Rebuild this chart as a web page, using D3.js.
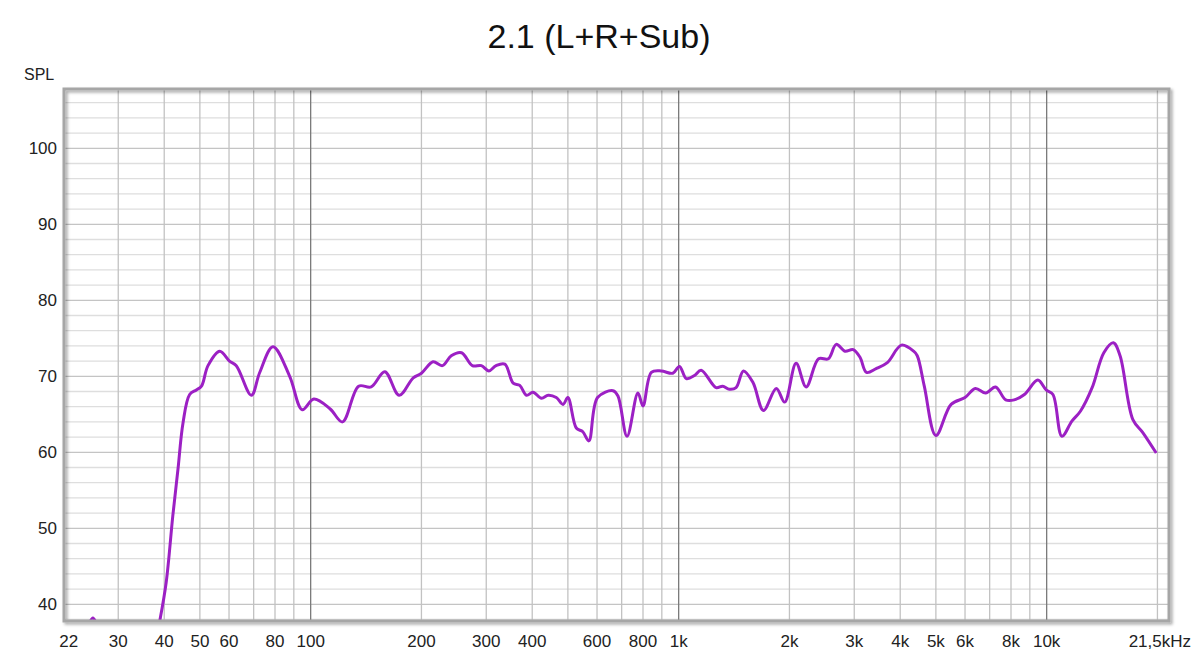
<!DOCTYPE html>
<html>
<head>
<meta charset="utf-8">
<script src="https://cdn.jsdelivr.net/npm/d3@7"></script>
<style>
  body { margin: 0; background: #fff; }
  text { font-family: "Liberation Sans", Arial, sans-serif; }
</style>
</head>
<body>
<div id="chart"></div>
<script>

// frequency response
var freqs = [24.8, 25.6, 26.4, 27, 34, 37.5, 38.9, 40.5, 42.2, 43.6, 45.0, 46.9, 48.9, 50.5, 52.6, 56.6,
  60.2, 62.8, 69.0, 72.7, 79.0, 87.7, 94.9, 102, 113, 122, 135, 146, 159, 174, 190, 200, 215, 228,
  241, 257, 275, 291, 305, 319, 337, 355, 370, 386, 402, 424, 442, 465, 485, 500, 527, 549, 570,
  602, 663, 684, 724, 775, 800, 843, 897, 964, 1005, 1049, 1104, 1151, 1264, 1317, 1373, 1432,
  1500, 1591, 1700, 1842, 1941, 2085, 2220, 2400, 2550, 2680, 2830, 2980, 3110, 3240, 3440, 3690,
  4030, 4350, 4450, 4650, 5000, 5500, 6000, 6400, 6830, 7260, 7740, 8160, 8700, 9460, 9970, 10400,
  11000, 11710, 12350, 13290, 14300, 15180, 15830, 17150, 18250, 19850];

var spl = [37.0, 38.2, 37.0, 35, 30, 34, 37.8, 42.9, 51.6, 57.8, 63.9, 67.6, 68.2, 68.7, 71.4, 73.3,
  72.0, 71.4, 67.5, 70.5, 73.9, 70.0, 65.6, 67.0, 65.7, 64.0, 68.7, 68.6, 70.6, 67.5, 69.8, 70.4, 71.9, 71.4,
  72.7, 73.1, 71.4, 71.4, 70.7, 71.4, 71.6, 69.1, 68.8, 67.5, 67.9, 67.1, 67.5, 67.2, 66.3, 67.2, 63.2, 62.7, 61.5,
  67.2, 68.1, 67.4, 62.1, 67.8, 66.1, 70.5, 70.7, 70.4, 71.3, 69.7, 70.1, 70.8, 68.5, 68.7, 68.3, 68.5,
  70.7, 69.2, 65.5, 68.4, 66.6, 71.7, 68.6, 72.3, 72.3, 74.2, 73.3, 73.5, 72.5, 70.5, 71.0, 71.8,
  74.1, 73.3, 72.7, 68.7, 62.2, 66.3, 67.2, 68.4, 67.8, 68.6, 66.9, 66.9, 67.6, 69.5, 68.2, 67.6,
  62.1, 64.1, 65.4, 68.5, 73.1, 74.4, 72.7, 64.3, 62.6, 59.9];

var xTicks = [22, 30, 40, 50, 60, 80, 100, 200, 300, 400, 600, 800, 1000, 2000, 3000, 4000, 5000, 6000, 8000, 10000, 21500];
var xTickLabels = ["22", "30", "40", "50", "60", "80", "100", "200", "300", "400", "600", "800", "1k", "2k", "3k", "4k", "5k", "6k", "8k", "10k", "21,5kHz"];
var yTicks = [40, 50, 60, 70, 80, 90, 100];

var svgWidth = 1200;
var svgHeight = 657;

var plot = { left: 65, right: 1169, top: 89, bottom: 621 };

var svg = d3.select("#chart")
  .append("svg")
  .attr("width", svgWidth)
  .attr("height", svgHeight);

var xScale = d3.scaleLog()
  .domain([21.5, 21500])
  .range([plot.left, plot.right]);

var yScale = d3.scaleLinear()
  .domain([37.8, 107.8])
  .range([plot.bottom, plot.top]);

// soft shadow under the frame
var defs = svg.append("defs");
var shadow = defs.append("filter")
  .attr("id", "shadow")
  .attr("x", "-5%").attr("y", "-5%")
  .attr("width", "110%").attr("height", "110%");
shadow.append("feDropShadow")
  .attr("dx", 2).attr("dy", 2)
  .attr("stdDeviation", 1.8)
  .attr("flood-color", "#000")
  .attr("flood-opacity", 0.35);

defs.append("clipPath")
  .attr("id", "plotclip")
  .append("rect")
  .attr("x", plot.left)
  .attr("y", plot.top)
  .attr("width", plot.right - plot.left)
  .attr("height", plot.bottom - plot.top);

// horizontal grid, every 2 dB
var hLines = d3.range(38, 108, 2);
svg.append("g")
  .selectAll("line")
  .data(hLines)
  .enter()
  .append("line")
  .attr("x1", plot.left)
  .attr("x2", plot.right)
  .attr("y1", d => yScale(d))
  .attr("y2", d => yScale(d))
  .attr("stroke", d => d % 10 == 0 ? "#c4c4c4" : "#dedede")
  .attr("stroke-width", 1.3);

// vertical grid, 1-9 per decade, decades darker
var vLines = [];
[10, 100, 1000, 10000].forEach(function(dec) {
  for (var i = 1; i < 10; i++) {
    var f = dec * i;
    if (f > 21.5 && f < 21500) vLines.push(f);
  }
});

svg.append("g")
  .selectAll("line")
  .data(vLines)
  .enter()
  .append("line")
  .attr("x1", d => xScale(d))
  .attr("x2", d => xScale(d))
  .attr("y1", plot.top)
  .attr("y2", plot.bottom)
  .attr("stroke", d => [100, 1000, 10000].includes(d) ? "#7a7a7a" : "#c2c2c2")
  .attr("stroke-width", 1.3);

// the response curve
var line = d3.line()
  .x(d => xScale(d[0]))
  .y(d => yScale(d[1]))
  .curve(d3.curveCatmullRom.alpha(0.5));

var points = freqs.map((f, i) => [f, spl[i]]);

svg.append("path")
  .datum(points)
  .attr("clip-path", "url(#plotclip)")
  .attr("fill", "none")
  .attr("stroke", "#9c20c4")
  .attr("stroke-width", 3)
  .attr("stroke-linejoin", "round")
  .attr("d", line);

// frame
svg.append("rect")
  .attr("x", plot.left - 1)
  .attr("y", plot.top)
  .attr("width", plot.right - plot.left + 1)
  .attr("height", plot.bottom - plot.top)
  .attr("fill", "none")
  .attr("stroke", "#a6a6a6")
  .attr("stroke-width", 3)
  .attr("filter", "url(#shadow)");

// axis labels, the last one right-aligned to the picture edge
svg.append("g")
  .selectAll("text")
  .data(xTicks)
  .enter()
  .append("text")
  .attr("x", (d, i) => i == xTicks.length - 1 ? 1191 : xScale(d))
  .attr("y", 647)
  .style("text-anchor", (d, i) => i == xTicks.length - 1 ? "end" : "middle")
  .style("font-size", "17px")
  .attr("fill", "#222")
  .text((d, i) => xTickLabels[i]);

svg.append("g")
  .selectAll("text")
  .data(yTicks)
  .enter()
  .append("text")
  .attr("x", 57)
  .attr("y", d => yScale(d))
  .attr("dy", "0.35em")
  .style("text-anchor", "end")
  .style("font-size", "17px")
  .attr("fill", "#222")
  .text(d => d);

svg.append("text")
  .attr("x", 24)
  .attr("y", 80)
  .style("font-size", "16px")
  .attr("fill", "#222")
  .text("SPL");

svg.append("text")
  .attr("x", 599)
  .attr("y", 48)
  .style("text-anchor", "middle")
  .style("font-size", "34px")
  .attr("fill", "#111")
  .text("2.1 (L+R+Sub)");

</script>
</body>
</html>
